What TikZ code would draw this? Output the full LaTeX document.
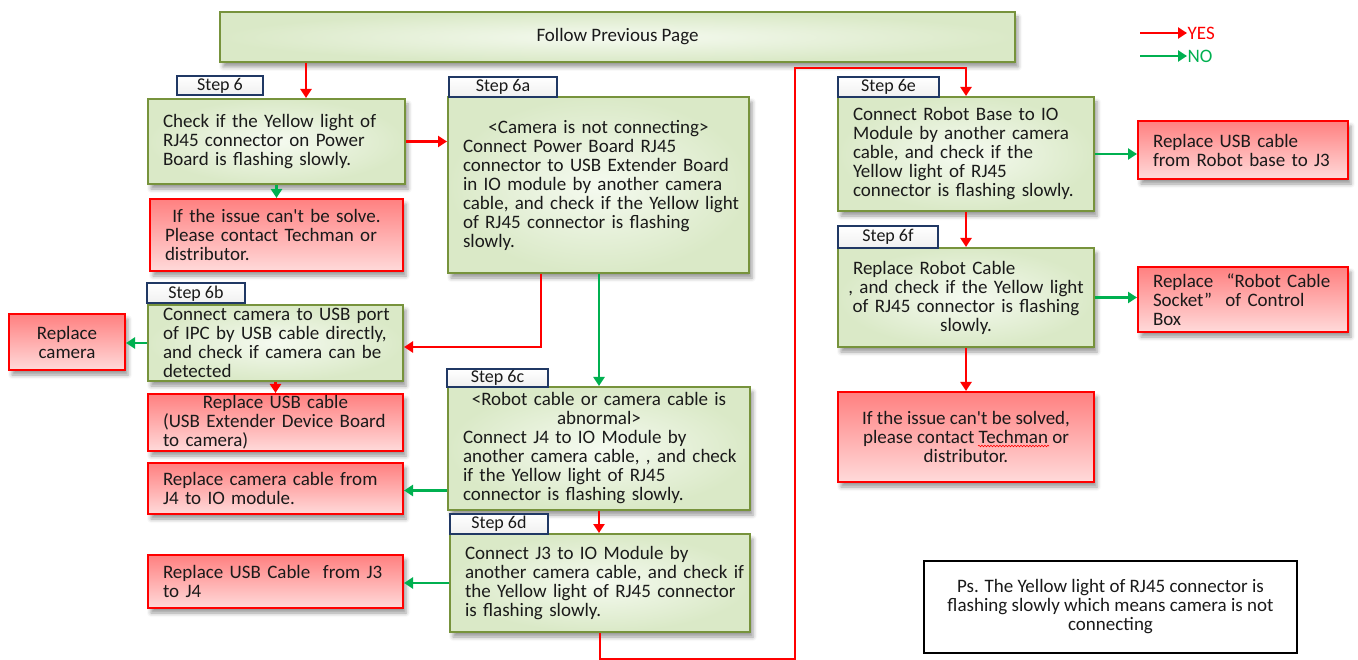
\documentclass[tikz,border=0pt]{standalone}
\usepackage{fontspec}
\setmainfont{Carlito}[Ligatures=TeXOff]
\usetikzlibrary{arrows.meta,shadows.blur,decorations.pathmorphing}

\definecolor{boxedge}{HTML}{77933C}
\definecolor{gin}{HTML}{F5FAF0}
\definecolor{gout}{HTML}{DAE9C7}
\definecolor{rtop}{HTML}{FF8080}
\definecolor{rbot}{HTML}{FFDADA}
\definecolor{navy}{HTML}{203864}
\definecolor{nogreen}{HTML}{00B050}
\definecolor{ink}{HTML}{1A1A1A}

% one line of a box, kept unbroken; \Cr centres it across the text width
\newcommand\Lr[1]{\mbox{#1}}
\newcommand\Cr[1]{\makebox[\hsize][c]{#1}}

\tikzset{
  txt/.style={font=\fontsize{19}{19}\selectfont, text=ink},
  shade/.style={blur shadow={shadow xshift=3pt, shadow yshift=-5pt,
      shadow blur radius=4pt, shadow opacity=40}},
  gbox/.style={txt, shade, draw=boxedge, line width=2pt, inner color=gin,
      outer color=gout, inner xsep=15pt, inner ysep=0pt, align=left},
  rbox/.style={txt, shade, draw=red, line width=2pt, top color=rtop,
      bottom color=rbot, inner xsep=15pt, inner ysep=0pt, align=left},
  lab/.style={font=\fontsize{18}{18}\selectfont, text=ink, draw=navy,
      line width=2pt, top color=white, bottom color=gray!12, inner sep=0pt},
  sz/.style 2 args={minimum width=#1, text width=#1-30pt, minimum height=#2},
  szc/.style 2 args={minimum width=#1, minimum height=#2, align=center},
  yes/.style={draw=red, line width=2.5pt, -{Triangle[length=9pt,width=11pt]}},
  no/.style={draw=nogreen, line width=2.5pt, -{Triangle[length=9pt,width=11pt]}},
  spell/.style={draw=red, line width=0.6pt, decorate,
      decoration={snake, amplitude=0.8pt, segment length=3pt}},
}

\begin{document}
\begin{tikzpicture}[x=1pt, y=-1pt]
\useasboundingbox (0,0) rectangle (1358,660);

% top banner
\node[gbox, szc={795pt}{50pt}] (follow) at (617.5,37) {Follow Previous Page};

% legend
\coordinate (lyes) at (1140,33);
\coordinate (lno) at (1140,56);
\node[txt, text=red, anchor=west, inner sep=0.5pt] (tyes) at (1187,33) {YES};
\node[txt, text=nogreen, anchor=west, inner sep=0.5pt] (tno) at (1187,56) {NO};

% left and middle columns
\node[gbox, sz={257pt}{85pt}] (b6) at (276.5,141.5)
  {\Lr{Check if the Yellow light of}\\\Lr{RJ45 connector on Power}\\\Lr{Board is flashing slowly.}};
\node[rbox, sz={253pt}{72pt}] (r6) at (276.5,235)
  {\Cr{If the issue can't be solve.}\\\Lr{Please contact Techman or}\\\Lr{distributor.}};

\node[gbox, sz={301pt}{176pt}] (b6a) at (598.5,185)
  {\Cr{<Camera is not connecting>}\\\Lr{Connect Power Board RJ45}\\
   \Lr{connector to USB Extender Board}\\\Lr{in IO module by another camera}\\
   \Lr{cable, and check if the Yellow light}\\\Lr{of RJ45 connector is flashing}\\
   \Lr{slowly.}};

\node[gbox, sz={255pt}{76pt}] (b6b) at (275.5,343)
  {\Lr{Connect camera to USB port}\\\Lr{of IPC by USB cable directly,}\\
   \Lr{and check if camera can be}\\\Lr{detected}};
\node[rbox, szc={116pt}{56pt}, inner xsep=0pt] (rcam) at (67,342) {Replace\\camera};
\node[rbox, sz={255pt}{57pt}] (rusb) at (275.5,422.5)
  {\Cr{Replace USB cable}\\\Lr{(USB Extender Device Board}\\\Lr{to camera)}};
\node[rbox, sz={255pt}{51pt}] (rcc) at (275.5,488.5)
  {\Lr{Replace camera cable from}\\\Lr{J4 to IO module.}};

\node[gbox, sz={302pt}{123pt}] (b6c) at (599,448.5)
  {\Cr{<Robot cable or camera cable is}\\\Cr{abnormal>}\\
   \Lr{Connect J4 to IO Module by}\\\Lr{another camera cable, , and check}\\
   \Lr{if the Yellow light of RJ45}\\\Lr{connector is flashing slowly.}};
\node[gbox, sz={300pt}{98pt}] (b6d) at (600,583)
  {\Lr{Connect J3 to IO Module by}\\\Lr{another camera cable, and check if}\\
   \Lr{the Yellow light of RJ45 connector}\\\Lr{is flashing slowly.}};
\node[rbox, sz={255pt}{53pt}] (rj3) at (275.5,581.5)
  {\Lr{Replace USB Cable\ \ from J3}\\\Lr{to J4}};

% right column
\node[gbox, sz={256pt}{114pt}] (b6e) at (966,154)
  {\Lr{Connect Robot Base to IO}\\\Lr{Module by another camera}\\
   \Lr{cable, and check if the}\\\Lr{Yellow light of RJ45}\\
   \Lr{connector is flashing slowly.}};
\node[rbox, sz={210pt}{58pt}] (rbase) at (1243,150)
  {\Lr{Replace USB cable}\\\Lr{from Robot base to J3}};
\node[gbox, sz={256pt}{99pt}] (b6f) at (966,297.5)
  {\Lr{Replace Robot Cable}\\\Cr{, and check if the Yellow light}\\
   \Cr{of RJ45 connector is flashing}\\\Cr{slowly.}};
\node[rbox, sz={210pt}{65pt}] (rsock) at (1243,299.5)
  {\Lr{Replace\hspace{0.7em}“Robot Cable}\\\Lr{Socket”\hspace{0.7em}of Control}\\\Lr{Box}};
\node[rbox, szc={256pt}{90pt}] (rend) at (966,437)
  {If the issue can't be solved,\\please contact Techman or\\distributor.};
% spell-check squiggle under "Techman"
\draw[spell] ([xshift=12pt, yshift=-9pt]rend.center) -- ++(71,0);

% note
\node[txt, draw=black, line width=2pt, fill=white, szc={373pt}{92pt}] (ps) at (1110.5,607)
  {Ps. The Yellow light of RJ45 connector is\\flashing slowly which means camera is not\\connecting};

% step tags
\node[lab, minimum width=86pt, minimum height=19pt] (s6) at (220,85.5) {Step 6};
\node[lab, minimum width=108pt, minimum height=20pt] (s6a) at (503,87) {Step 6a};
\node[lab, minimum width=98pt, minimum height=20pt] (s6b) at (196,293.5) {Step 6b};
\node[lab, minimum width=101pt, minimum height=18pt] (s6c) at (497.5,378) {Step 6c};
\node[lab, minimum width=98pt, minimum height=20pt] (s6d) at (499,524) {Step 6d};
\node[lab, minimum width=101pt, minimum height=20pt] (s6e) at (888.5,87) {Step 6e};
\node[lab, minimum width=100pt, minimum height=22pt] (s6f) at (888,237) {Step 6f};

% connectors
\coordinate (bus) at (795,68);
\draw[yes] ([xshift=29.5pt]b6.north |- follow.south) -- ([xshift=29.5pt]b6.north);
\draw[yes] (b6.east) -- (b6.east -| b6a.west);
\draw[no] (b6.south) -- (r6.north);
\draw[yes] ([xshift=-57.5pt]b6a.south) |- ([yshift=-4pt]b6b.east);
\draw[no] (b6a.south -| b6c.north) -- (b6c.north);
\draw[no] (b6b.west) -- (b6b.west -| rcam.east);
\draw[yes] (b6b.south) -- (rusb.north);
\draw[no] ([yshift=-2pt]b6c.west |- rcc.east) -- ([yshift=-2pt]rcc.east);
\draw[yes] (b6c.south) -- (b6c.south |- b6d.north);
\draw[no] (b6d.west) -- (b6d.west -| rj3.east);
\draw[yes] (b6d.south) -- ++(0,26) -| (bus) -| (b6e.north);
\draw[yes] (b6e.south) -- (b6f.north);
\draw[no] (b6e.east) -- (b6e.east -| rbase.west);
\draw[no] (b6f.east) -- (b6f.east -| rsock.west);
\draw[yes] (b6f.south) -- (rend.north);
\draw[yes] (lyes) -- (tyes.west);
\draw[no] (lno) -- (tno.west);
\end{tikzpicture}
\end{document}
